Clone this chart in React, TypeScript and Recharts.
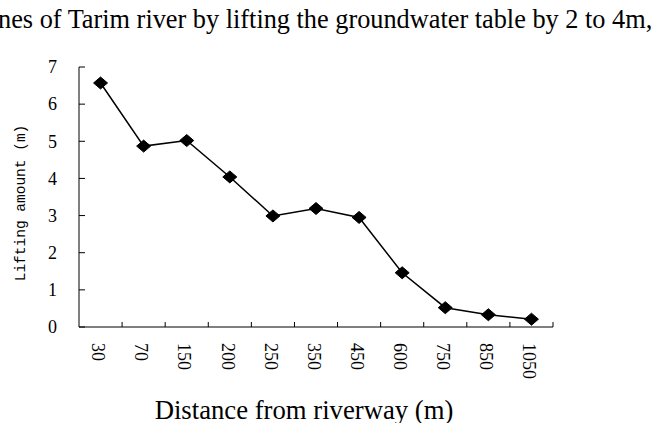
import React from 'react'
import { LineChart, Line, XAxis, YAxis } from 'recharts'

// distance from riverway (m) and lifting amount (m)
const distances = ['30', '70', '150', '200', '250', '350', '450', '600', '750', '850', '1050']
const lifting = [6.57, 4.87, 5.02, 4.04, 2.99, 3.19, 2.95, 1.46, 0.52, 0.33, 0.21]
const yTicks = [0, 1, 2, 3, 4, 5, 6, 7]

const W = 669
const H = 423
const Y_AXIS_W = 60
const X_AXIS_H = 30
// plot area: x 79..553, y 67..327
const M = { top: 67, right: 116, bottom: 96 - X_AXIS_H, left: 79 - Y_AXIS_W }
const BAND = (W - 79 - 116) / distances.length

const data = distances.map((d, i) => ({ d, v: lifting[i] }))

const serif = '"Liberation Serif", "Times New Roman", serif'

// tick mark at right edge of each category, label rotated below
function XTick(props: any) {
  const { x, y, payload } = props
  const right = x + BAND / 2
  return (
    <g>
      <line x1={right} x2={right} y1={y} y2={y - 5} stroke="#000" strokeWidth={1} />
      <g transform={`translate(${x - 2},${y + 16}) rotate(90)`}>
        <text x={0} y={0} dy="0.35em" textAnchor="start" fontFamily={serif} fontSize={18} fill="#000">
          {payload.value}
        </text>
      </g>
    </g>
  )
}

function YTick(props: any) {
  const { x, y, payload } = props
  return (
    <g>
      <line x1={x} x2={x + 6} y1={y} y2={y} stroke="#000" strokeWidth={1} />
      <text x={x - 22} y={y} dy="0.35em" textAnchor="end" fontFamily={serif} fontSize={18} fill="#000">
        {payload.value}
      </text>
    </g>
  )
}

function Diamond(props: any) {
  const { cx, cy } = props
  if (cx == null || cy == null) return null
  return (
    <polygon
      points={`${cx - 7},${cy} ${cx},${cy - 6} ${cx + 7},${cy} ${cx},${cy + 6}`}
      fill="#000"
      stroke="#000"
    />
  )
}

export default function App() {
  return (
    <div style={{ position: 'absolute', left: 0, top: 0, width: W, height: H, background: '#fff', overflow: 'hidden' }}>
      <LineChart width={W} height={H} data={data} margin={M}>
        <XAxis
          dataKey="d"
          type="category"
          scale="band"
          height={X_AXIS_H}
          axisLine={{ stroke: '#000', strokeWidth: 1 }}
          tickLine={false}
          tickSize={0}
          tickMargin={0}
          interval={0}
          tick={<XTick />}
        />
        <YAxis
          type="number"
          domain={[0, 7]}
          ticks={yTicks}
          width={Y_AXIS_W}
          axisLine={{ stroke: '#000', strokeWidth: 1 }}
          tickLine={false}
          tickSize={0}
          tickMargin={0}
          interval={0}
          tick={<YTick />}
        />
        <Line
          type="linear"
          dataKey="v"
          stroke="#000"
          strokeWidth={1.5}
          dot={<Diamond />}
          activeDot={false}
          isAnimationActive={false}
        />
      </LineChart>
      <svg width={W} height={H} style={{ position: 'absolute', left: 0, top: 0, pointerEvents: 'none' }}>
        <text x={-2} y={28} fontFamily={serif} fontSize={26.3} fill="#000">
          nes of Tarim river by lifting the groundwater table by 2 to 4m,
        </text>
        <text x={304} y={419} textAnchor="middle" fontFamily={serif} fontSize={26.7} fill="#000">
          Distance from riverway (m)
        </text>
        <text
          transform="translate(20,203) rotate(-90)"
          textAnchor="middle"
          dy="0.35em"
          fontFamily='"Liberation Mono", monospace'
          fontSize={14.5}
          fill="#000"
        >
          Lifting amount (m)
        </text>
      </svg>
    </div>
  )
}
